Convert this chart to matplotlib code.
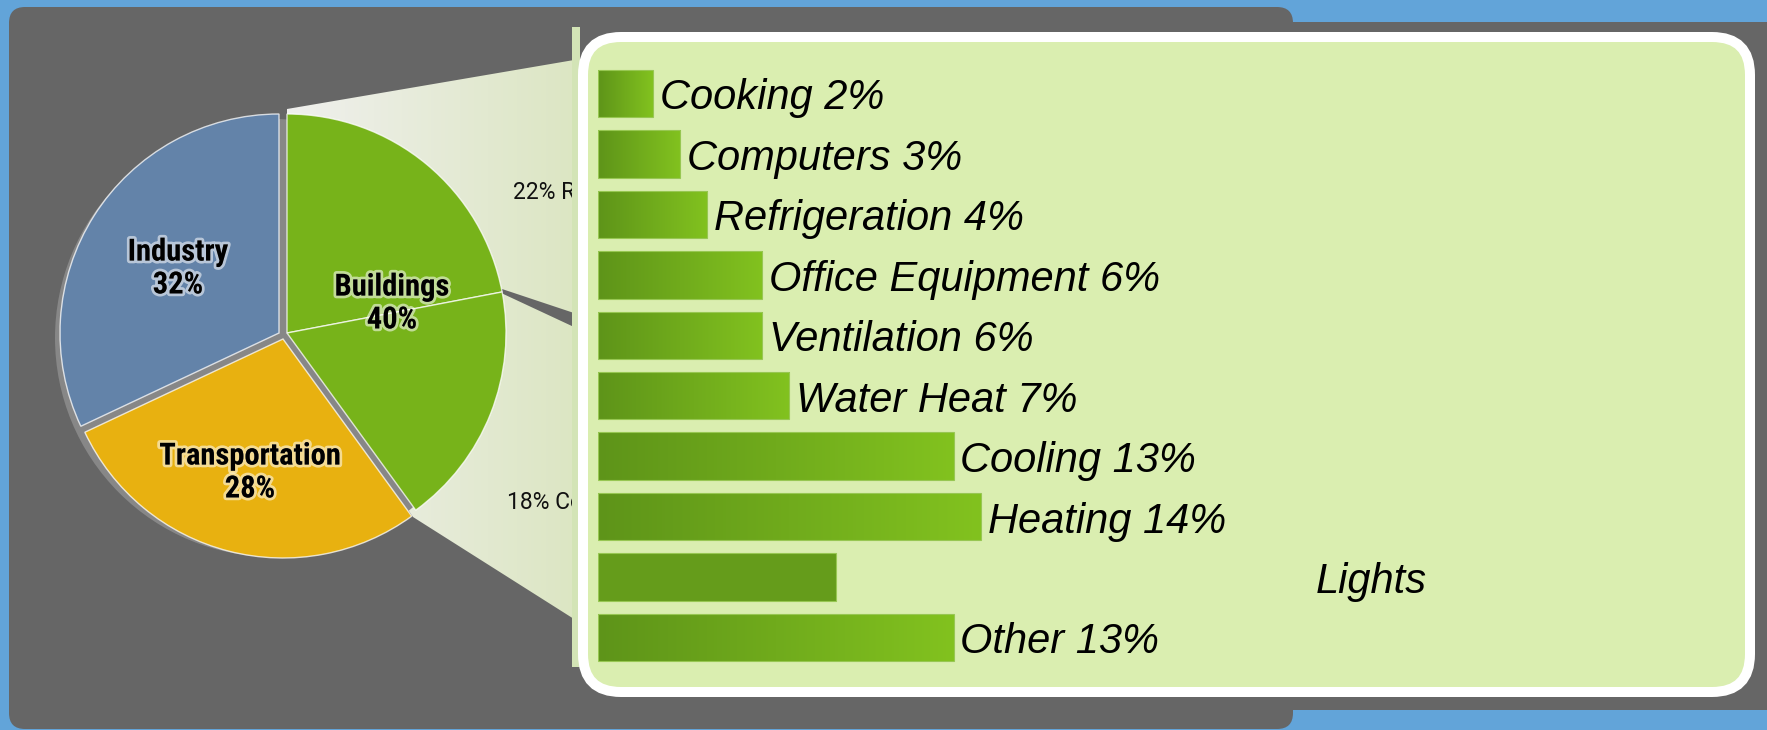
import numpy as np
import matplotlib
matplotlib.use('Agg')
import matplotlib.pyplot as plt
import matplotlib.patheffects as pe
from matplotlib import font_manager
from matplotlib.patches import FancyBboxPatch, Rectangle, Polygon, Circle
from matplotlib.colors import LinearSegmentedColormap

W, H = 1767, 730

# pie: energy use by sector, buildings split into residential / commercial
sectors = ['Residential', 'Commercial', 'Transportation', 'Industry']
sector_share = [22, 18, 28, 32]
sector_colors = ['#77b31a', '#77b31a', '#e8b110', '#6383a9']
sector_nudge = [(4, 0), (4, 0), (0, 6), (-4, 0)]   # exploded look, in pixels (x, y down)

pie_labels = ['Buildings\n40%', 'Transportation\n28%', 'Industry\n32%']
side_labels = ['22% Residential', '18% Commercial']

# bars: commercial building end uses
end_uses = ['Cooking', 'Computers', 'Refrigeration', 'Office Equipment', 'Ventilation',
            'Water Heat', 'Cooling', 'Heating', 'Lights', 'Other']
end_use_share = [2, 3, 4, 6, 6, 7, 13, 14, 26, 13]
bar_drawn = [2, 3, 4, 6, 6, 7, 13, 14, 8.7, 13]     # the lights bar is drawn short in the original
show_pct = [True, True, True, True, True, True, True, True, False, True]

installed = {f.name for f in font_manager.fontManager.ttflist}
narrow = next((f for f in ['Roboto Condensed', 'Liberation Sans Narrow', 'Archivo Narrow',
                           'Barlow Condensed'] if f in installed), None)
if narrow:
    pie_size = 22
else:
    narrow, pie_size = 'Liberation Sans', 17.5
side_font = 'Roboto' if 'Roboto' in installed else 'Liberation Sans'
side_size = 16.5 if side_font == 'Roboto' else 15


def fy(y):
    # image rows (top down) -> data y
    return H - y


fig = plt.figure(figsize=(W / 100, H / 100), dpi=100, facecolor='#62a4d9')
ax = fig.add_axes([0, 0, 1, 1])

# dark backdrop
ax.add_patch(FancyBboxPatch((9, fy(729)), 1284, 722, boxstyle='round,pad=0,rounding_size=16',
                            fc='#666666', ec='none', zorder=1))
ax.add_patch(Rectangle((1293, fy(710)), W - 1293, 688, fc='#666666', ec='none', zorder=1))

# callout shapes from the buildings slice to the panel
callout_cmap = LinearSegmentedColormap.from_list('callout', ['#f0f0ee', '#dce6c3'])
grad = np.linspace(0, 1, 256).reshape(1, -1)
callouts = [[(287, 109), (574, 60), (574, 313), (499, 288), (287, 333)],
            [(287, 333), (499, 292), (574, 327), (574, 619), (413, 517)]]
for pts in callouts:
    poly = Polygon([(x, fy(y)) for x, y in pts], closed=True, fc='none', ec='none')
    ax.add_patch(poly)
    im = ax.imshow(grad, extent=(287, 574, fy(619), fy(60)), cmap=callout_cmap,
                   aspect='auto', zorder=2)
    im.set_clip_path(poly)

ax.text(513, fy(199), side_labels[0], family=side_font, size=side_size, color='#111111', zorder=3)
ax.text(507, fy(509), side_labels[1], family=side_font, size=side_size, color='#111111', zorder=3)

# pie
cx, cy = 283, 333
ax.add_patch(Circle((cx - 9, fy(cy + 5)), 219, fc='#878787', ec='none', zorder=3))
wedges, _ = ax.pie(sector_share, colors=sector_colors, startangle=90, counterclock=False,
                   radius=219, center=(cx, fy(cy)),
                   wedgeprops=dict(edgecolor=(1, 1, 1, 0.75), linewidth=1.0))
for w, (dx, dy) in zip(wedges, sector_nudge):
    w.set_center((cx + dx, fy(cy + dy)))
    w.set_zorder(4)

glow = [pe.withStroke(linewidth=4, foreground=(1, 1, 1, 0.55))]
for txt, (x, y) in zip(pie_labels, [(392, 303), (250, 472), (178, 268)]):
    ax.text(x, fy(y), txt, ha='center', va='center', linespacing=1.12, family=narrow,
            weight='bold', size=pie_size, color='black', path_effects=glow, zorder=5)

# light panel
ax.add_patch(Rectangle((572, fy(667)), 8, 640, fc='#d3e4b6', ec='none', zorder=6))
ax.add_patch(FancyBboxPatch((583, fy(692)), 1750 - 583, 692 - 37,
                            boxstyle='round,pad=0,rounding_size=38',
                            fc='#daeeb0', ec='white', lw=7.2, zorder=7))

ax.set_xlim(0, W)
ax.set_ylim(0, H)
ax.set_aspect('auto')
ax.axis('off')

# bar chart inside the panel
px_per_pct = 27.35
bw = 1150
bax = fig.add_axes([598 / W, (H - 667.7) / H, bw / W, 604.4 / H])
bax.axis('off')

bar_cmap = LinearSegmentedColormap.from_list('bar', ['#5e9419', '#82c21f'])
bars = bax.barh(range(len(end_uses)), bar_drawn, height=0.786, color='none',
                edgecolor='#97c752', linewidth=0.8, zorder=3)
for i, b in enumerate(bars):
    if show_pct[i]:
        im = bax.imshow(grad, extent=(0, bar_drawn[i], i + 0.393, i - 0.393), cmap=bar_cmap,
                        aspect='auto', zorder=2)
        im.set_clip_path(b)
    else:
        b.set_facecolor('#659c1b')
    label = f'{end_uses[i]} {end_use_share[i]}%' if show_pct[i] else end_uses[i]
    bax.annotate(label, xy=(end_use_share[i], i), xytext=(5, -11.5), textcoords='offset points',
                 ha='left', va='baseline', family='Liberation Sans', style='italic',
                 size=30, color='black')
bax.set_xlim(0, bw / px_per_pct)
bax.set_ylim(9.5, -0.5)

fig.savefig('out.png', dpi=100, facecolor=fig.get_facecolor())
